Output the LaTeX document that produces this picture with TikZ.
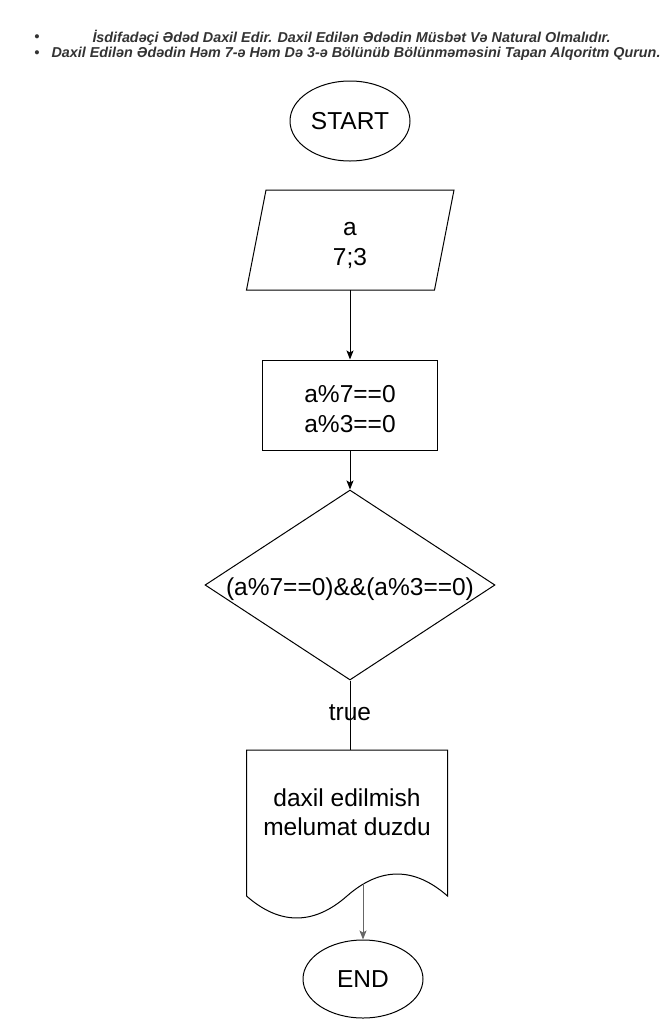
\documentclass[tikz,border=0pt]{standalone}
\usepackage{fontspec}
\setmainfont{Liberation Sans}
\usepackage{tikz}
\usetikzlibrary{calc,positioning,arrows.meta,shapes}

\tikzset{
  box/.style={draw, line width=1pt, font=\fontsize{24.5}{29.5}\selectfont, align=center},
  txt/.style={font=\fontsize{24.5}{29.5}\selectfont, align=center},
  arr/.style={line width=1pt, -{Stealth[length=9pt,width=7pt,inset=2pt]}},
  note/.style={font=\fontsize{14.35}{16}\selectfont\bfseries\itshape, text=black!80}
}

\begin{document}
\begin{tikzpicture}[x=1pt,y=-1pt]
    \useasboundingbox (0,0) rectangle (671,1021);

    % the task text on top
    \node[note] (b1) at (37,38) {•};
    \node[note] (b2) at (37,54) {•};
    \node[note] (t1) at (351.5,38) {İsdifadəçi Ədəd Daxil Edir. Daxil Edilən Ədədin Müsbət Və Natural Olmalıdır.};
    \node[note] (t2) at (356,54) {Daxil Edilən Ədədin Həm 7-ə Həm Də 3-ə Bölünüb Bölünməməsini Tapan Alqoritm Qurun.};

    % the blocks of the flowchart
    \node[box, ellipse, minimum width=120, minimum height=80, inner sep=0] (start) at (350,121) {START};
    \node[box, draw=none, minimum width=187, minimum height=99] (inp) at (350,240) {};
    \node[box, rectangle, minimum width=175, minimum height=90] (calc) at (350,405) {};
    \node[box, diamond, aspect=1.53, inner sep=0, minimum width=290, minimum height=190] (cond) at (350,585) {};
    \node[box, draw=none, minimum width=200, minimum height=145, anchor=north] (doc) at (347,750) {};
    \node[box, ellipse, minimum width=120, minimum height=78, inner sep=0] (end) at (363,979) {END};

    % the slanted input block
    \draw[line width=1pt] ($(inp.south west)+(-9.5,0)$) -- ($(inp.north west)+(10,0)$)
        -- ($(inp.north east)+(10,0)$) -- ($(inp.south east)+(-9.5,0)$) -- cycle;

    % the texts inside the blocks
    \node[txt] (inptxt) at (350,245.5) {a\\7;3};
    \node[txt] (calctxt) at (350,409) {a\%7==0\\a\%3==0};
    \node[txt] (condtxt) at (350,589) {(a\%7==0)\&\&(a\%3==0)};
    \node[txt] (msg) at (347,812) {daxil edilmish\\melumat duzdu};

    % the wavy bottom of the document block
    \draw[line width=1pt] (doc.south west) -- (doc.north west) -- (doc.north east) -- (doc.south east)
        .. controls +(-33.3,-29.3) and +(33.3,-29.3) .. (doc.south)
        .. controls +(-33.3,29.3) and +(33.3,29.3) .. cycle;
    \coordinate (wave) at (363,883);

    % draw the arrows
    \draw[arr] (inp) -- (calc);
    \draw[arr] (calc) -- (cond);
    \draw[line width=1pt] (cond.south) -- (cond.south |- doc.north)
        node[pos=0.46, font=\fontsize{24.5}{28}\selectfont] (yes) {true};
    \draw[arr, draw=black!60] (wave) -- (end);

\end{tikzpicture}
\end{document}
